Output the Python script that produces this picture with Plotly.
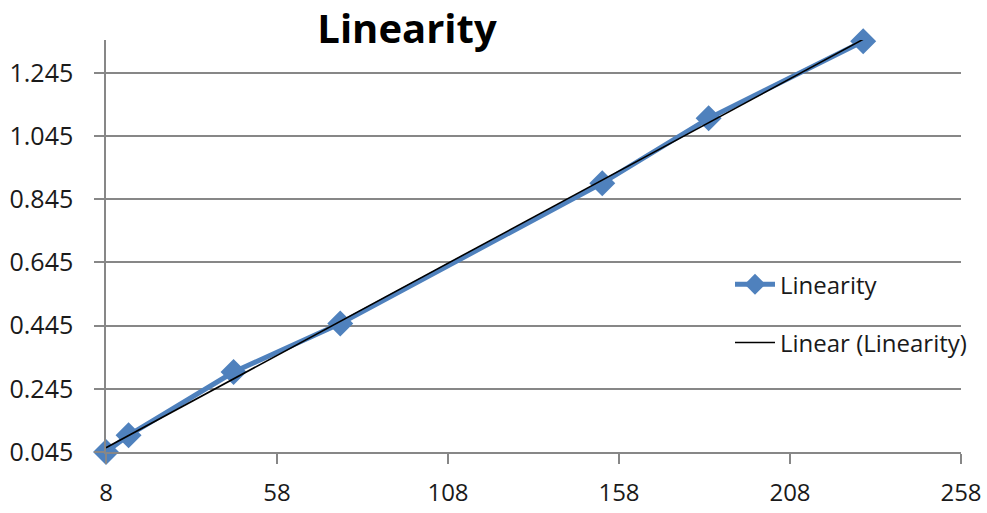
import numpy as np
import plotly.graph_objects as go

# Measured points of the linearity series
x_vals = [8, 14.6, 45.3, 76.5, 153.1, 184.2, 229.4]
y_vals = [0.045, 0.098, 0.298, 0.452, 0.896, 1.101, 1.345]

x_ticks = [8, 58, 108, 158, 208, 258]
y_ticks = [0.045, 0.245, 0.445, 0.645, 0.845, 1.045, 1.245]

series_name = "Linearity"
trend_name = "Linear (Linearity)"

BLUE = "#4F81BD"
GRID = "#878787"
FONT = "Open Sans"

# Least-squares trend line across the data span
slope, intercept = np.polyfit(x_vals, y_vals, 1)
trend_x = [min(x_vals), max(x_vals)]
trend_y = [slope * v + intercept for v in trend_x]

fig = go.Figure()
fig.add_trace(go.Scatter(
    x=x_vals, y=y_vals, name=series_name, mode="lines+markers",
    line=dict(color=BLUE, width=5),
    marker=dict(symbol="diamond", size=20, color=BLUE),
    legendgroup="a", cliponaxis=False,
))
fig.add_trace(go.Scatter(
    x=trend_x, y=trend_y, name=trend_name, mode="lines",
    line=dict(color="black", width=1.6),
    legendgroup="b", cliponaxis=False,
))

fig.update_layout(
    width=987, height=513,
    margin=dict(l=106, r=26, t=40, b=61),
    paper_bgcolor="white", plot_bgcolor="white",
    font=dict(family=FONT, color="#1a1a1a"),
    title=dict(
        text="<b>Linearity</b>", x=407 / 987, xanchor="center",
        xref="container", yref="container", y=1 - 29 / 513, yanchor="middle",
        font=dict(family=FONT, size=40, color="black"),
    ),
    showlegend=True,
    legend=dict(
        x=(730 - 106) / 855, y=(451.7 - 262) / 411.7, xanchor="left", yanchor="top",
        bgcolor="rgba(0,0,0,0)", font=dict(family=FONT, size=24, color="#1a1a1a"),
        tracegroupgap=24, itemwidth=40,
    ),
    hovermode=False,
)

fig.update_xaxes(
    range=[8, 258], tickvals=x_ticks, ticktext=[str(v) for v in x_ticks],
    showgrid=False, zeroline=False, automargin=False,
    showline=True, linecolor=GRID, linewidth=1.5,
    ticks="outside", ticklen=10, tickcolor=GRID, tickwidth=1.5,
    ticklabelstandoff=8,
    tickfont=dict(family=FONT, size=24, color="#1a1a1a"),
)
fig.update_yaxes(
    range=[0.045, 1.349], tickvals=y_ticks, ticktext=[f"{v:.3f}" for v in y_ticks],
    showgrid=True, gridcolor=GRID, gridwidth=1.5, zeroline=False, automargin=False,
    showline=True, linecolor=GRID, linewidth=1.5,
    ticks="outside", ticklen=10, tickcolor=GRID, tickwidth=1.5,
    ticklabelstandoff=16,
    tickfont=dict(family=FONT, size=25, color="#1a1a1a"),
)

fig.write_html("out.html")
